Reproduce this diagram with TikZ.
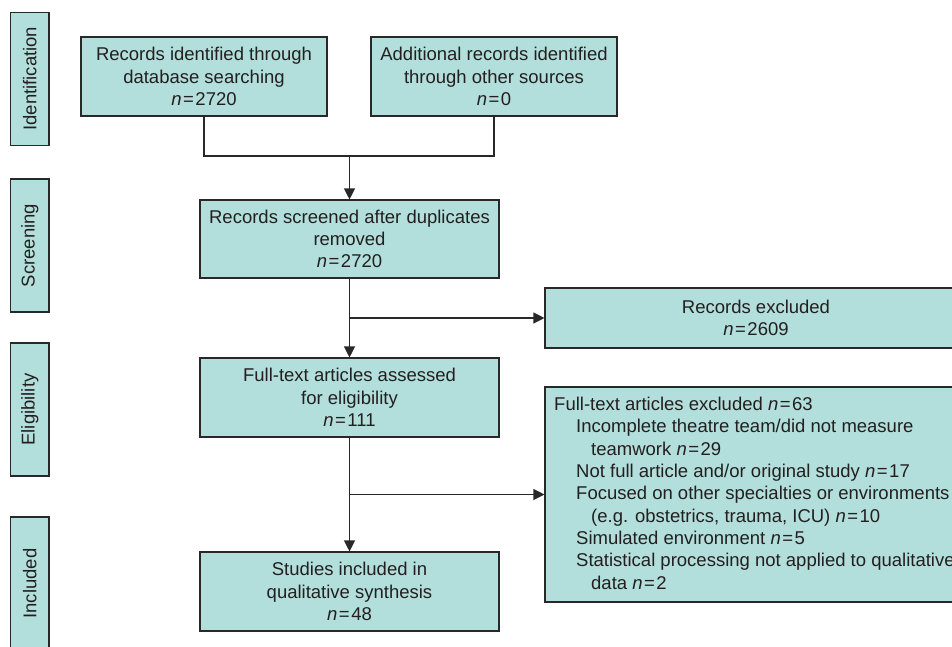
\documentclass[tikz,border=0pt]{standalone}
\usepackage{fontspec}
\setmainfont{Liberation Sans}
\usetikzlibrary{arrows.meta}
\definecolor{boxfill}{RGB}{178,223,219}
\definecolor{boxline}{RGB}{40,40,40}
\definecolor{txt}{RGB}{35,31,32}
\newcommand{\nval}[1]{\textit{n}\kern1.5pt=\kern1.5pt#1}
\begin{document}
\begin{tikzpicture}[x=1pt,y=-1pt,
  box/.style={draw=boxline, line width=1.1pt, fill=boxfill, rectangle, inner sep=0pt,
    text=txt, align=center, font=\fontsize{18.5}{22.3}\selectfont},
  side/.style={box, rotate=90, minimum height=38.5pt, minimum width=133pt},
  conn/.style={draw=boxline, line width=1.1pt},
  arr/.style={conn, -{Triangle[length=11pt,width=11pt]}},
  linetxt/.style={anchor=base west, inner sep=0pt, text=txt, font=\fontsize{18.5}{22.3}\selectfont}
]
\useasboundingbox (0,0) rectangle (952,646);
\clip (0,0) rectangle (952,646);

% side labels
\node[side] (sid) at (29.75,78.75) {Identification};
\node[side] (ssc) at (29.75,245.5) {Screening};
\node[side] (sel) at (29.75,409.5) {Eligibility};
\node[side] (sin) at (29.75,583.5) {Included};

% main boxes
\node[box, minimum width=246pt, minimum height=79pt] (b1) at (204,76.5)
  {Records identified through\\database searching\\\nval{2720}};
\node[box, minimum width=246pt, minimum height=79pt] (b2) at (494,76.5)
  {Additional records identified\\through other sources\\\nval{0}};
\node[box, minimum width=299pt, minimum height=78pt] (b3) at (349.5,239)
  {Records screened after duplicates\\removed\\\nval{2720}};
\node[box, minimum width=422pt, minimum height=60pt] (r1) at (756,318)
  {Records excluded\\\nval{2609}};
\node[box, minimum width=299pt, minimum height=79pt] (b4) at (349.5,397.5)
  {Full-text articles assessed\\for eligibility\\\nval{111}};
\node[box, minimum width=422pt, minimum height=215pt] (b6) at (756,494.5) {};
\node[box, minimum width=299pt, minimum height=79pt] (b5) at (349.5,591.5)
  {Studies included in\\qualitative synthesis\\\nval{48}};

% excluded list text
\node[linetxt] (t1) at (554,410) {Full-text articles excluded \nval{63}};
\node[linetxt] (t2) at (576,432.5) {Incomplete theatre team/did not measure};
\node[linetxt] (t3) at (591,455) {teamwork \nval{29}};
\node[linetxt] (t4) at (576,477) {Not full article and/or original study \nval{17}};
\node[linetxt] (t5) at (576,499.5) {Focused on other specialties or environments};
\node[linetxt] (t6) at (591,522) {(e.g. obstetrics, trauma, ICU) \nval{10}};
\node[linetxt] (t7) at (576,544) {Simulated environment \nval{5}};
\node[linetxt] (t8) at (576,566.5) {Statistical processing not applied to qualitative};
\node[linetxt] (t9) at (591,589) {data \nval{2}};

% connectors
\coordinate (m) at (349.5,156);
\draw[conn] (b1.south) |- (m) -| (b2.south);
\draw[arr] (m) -- (b3.north);
\draw[arr] (b3.south) -- (b4.north);
\coordinate (j1) at (b3.south |- r1.west);
\draw[arr] (j1) -- (r1.west);
\draw[arr] (b4.south) -- (b5.north);
\coordinate (j2) at (b4.south |- b6.west);
\draw[arr] (j2) -- (b6.west);
\end{tikzpicture}
\end{document}
